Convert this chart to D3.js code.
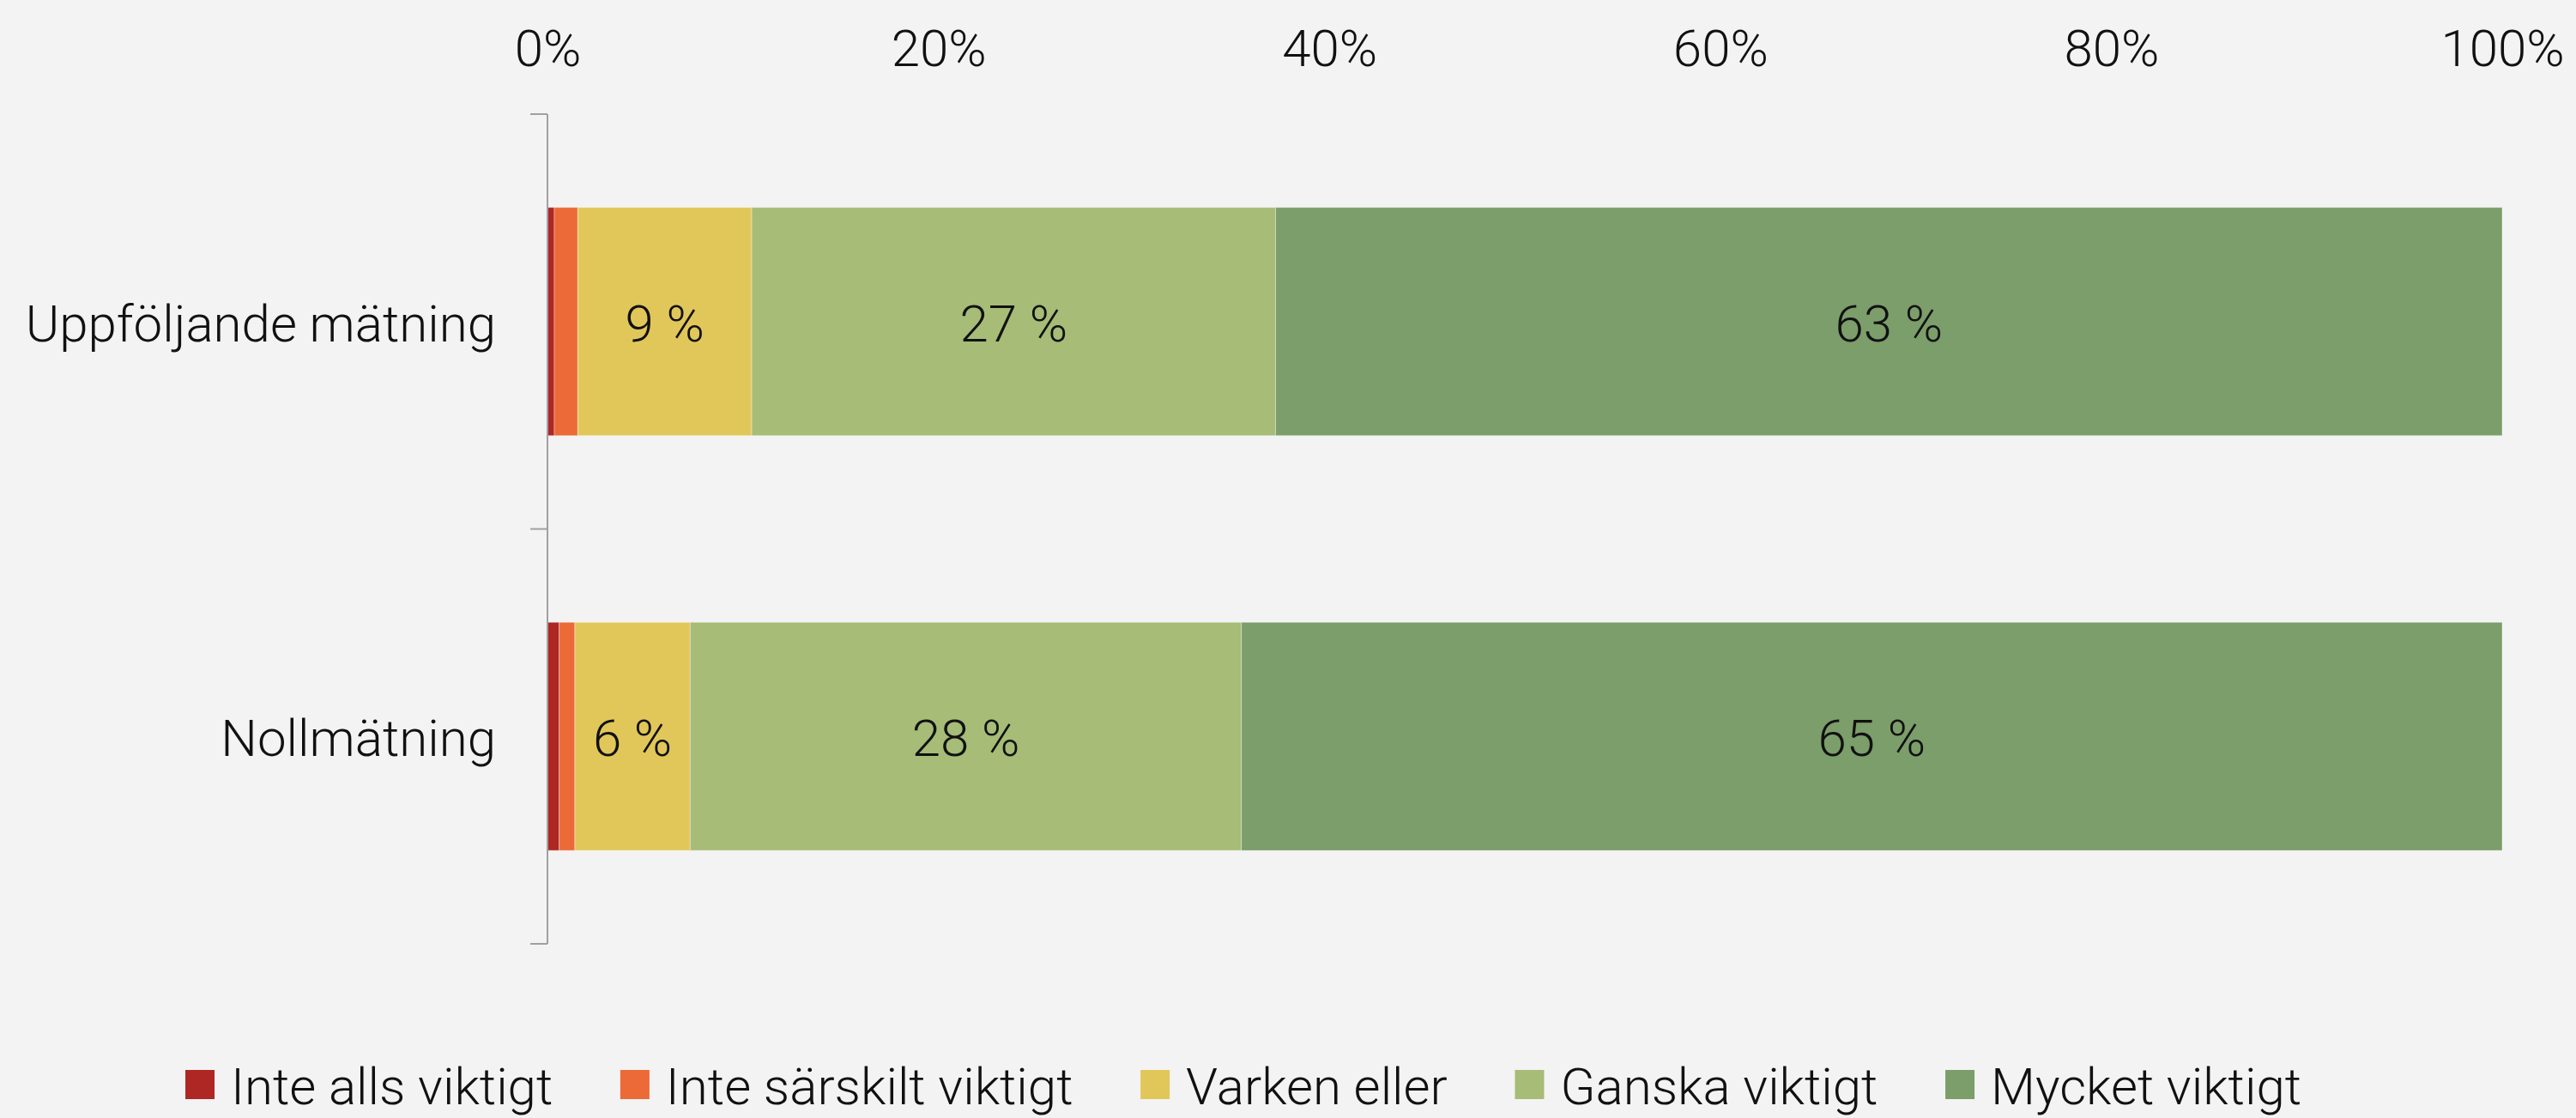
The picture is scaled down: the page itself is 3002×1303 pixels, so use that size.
<!DOCTYPE html>
<html lang="sv">
<head>
  <meta charset="UTF-8" />
  <title>Viktigt – Nollmätning och uppföljande mätning</title>
  <script src="https://d3js.org/d3.v7.min.js"></script>
  <style>
    html, body {
      margin: 0;
      padding: 0;
      background-color: #f3f3f3;
      overflow: hidden;
      width: 3002px;
      height: 1303px;
    }
    svg text {
      font-family: Roboto, "Liberation Sans", sans-serif;
      font-weight: 300;
      fill: #111;
    }
  </style>
</head>
<body>
  <svg id="chart" width="3002" height="1303"></svg>

  <script>
    // data
    const categories = ["Uppföljande mätning", "Nollmätning"];
    const seriesNames = ["Inte alls viktigt", "Inte särskilt viktigt", "Varken eller", "Ganska viktigt", "Mycket viktigt"];
    const inteAlls    = [0.35, 0.6];
    const inteSarskilt = [1.2, 0.8];
    const varkenEller = [8.9, 5.9];
    const ganska      = [26.8, 28.2];
    const mycket      = [62.75, 64.5];
    const xTicks = [0, 20, 40, 60, 80, 100];

    const colors = ["#ae2724", "#ec6a37", "#e1c75a", "#a6bc77", "#7c9e6a"];

    const svg = d3.select("#chart");
    const fontSize = 60;

    const x = d3.scaleLinear().domain([0, 100]).range([638, 2916]);
    const y = d3.scaleBand().domain(categories).range([133, 1100]).paddingInner(0.45).paddingOuter(0.225);

    const rows = categories.map((c, i) => {
      const vals = [inteAlls[i], inteSarskilt[i], varkenEller[i], ganska[i], mycket[i]];
      let acc = 0;
      return vals.map((v, k) => {
        const s = { cat: c, key: seriesNames[k], k: k, v: v, x0: acc, x1: acc + v };
        acc += v;
        return s;
      });
    });

    // top axis
    const xAxis = svg.append("g")
      .attr("transform", "translate(0, 77)")
      .call(d3.axisTop(x).tickValues(xTicks).tickSize(0).tickPadding(0).tickFormat(d => d + "%"));
    xAxis.select(".domain").remove();
    xAxis.selectAll("text")
      .attr("y", 0).attr("dy", 0)
      .style("font-size", fontSize + "px")
      .attr("fill", "#111");

    // bars
    const groups = svg.append("g").selectAll("g")
      .data(rows)
      .join("g");

    groups.selectAll("rect")
      .data(d => d)
      .join("rect")
      .attr("x", d => x(d.x0))
      .attr("width", d => x(d.x1) - x(d.x0))
      .attr("y", d => y(d.cat))
      .attr("height", y.bandwidth())
      .attr("fill", d => colors[d.k])
      .attr("stroke", "rgba(255,255,255,0.35)")
      .attr("stroke-width", 1);

    groups.selectAll("text")
      .data(d => d.filter(s => s.v >= 3))
      .join("text")
      .attr("x", d => x((d.x0 + d.x1) / 2))
      .attr("y", d => y(d.cat) + y.bandwidth() / 2)
      .attr("dy", "0.38em")
      .attr("text-anchor", "middle")
      .style("font-size", fontSize + "px")
      .text(d => Math.round(d.v) + " %");

    // left axis with ticks at band edges
    const axisX = x(0);
    const edges = [133, ...categories.slice(1).map(c => y(c) - y.step() * y.paddingInner() / 2), 1100];
    svg.append("line")
      .attr("x1", axisX).attr("x2", axisX)
      .attr("y1", 133).attr("y2", 1100)
      .attr("stroke", "#a0a0a0").attr("stroke-width", 2);
    svg.append("g").selectAll("line")
      .data(edges)
      .join("line")
      .attr("x1", axisX - 20).attr("x2", axisX)
      .attr("y1", d => d).attr("y2", d => d)
      .attr("stroke", "#a0a0a0").attr("stroke-width", 2);

    svg.append("g").selectAll("text")
      .data(categories)
      .join("text")
      .attr("x", axisX - 60)
      .attr("y", d => y(d) + y.bandwidth() / 2)
      .attr("dy", "0.38em")
      .attr("text-anchor", "end")
      .style("font-size", fontSize + "px")
      .text(d => d);

    // legend, spread between the same outer edges as the original
    const legend = svg.append("g").attr("transform", "translate(0, 1287)");
    const items = legend.selectAll("g")
      .data(seriesNames)
      .join("g");
    items.append("rect")
      .attr("x", 0).attr("y", -40)
      .attr("width", 34).attr("height", 34)
      .attr("fill", (d, i) => colors[i]);
    items.append("text")
      .attr("x", 53).attr("y", 0)
      .style("font-size", fontSize + "px")
      .text(d => d);

    const widths = [];
    items.each(function() {
      widths.push(53 + d3.select(this).select("text").node().getComputedTextLength());
    });
    const left = 216, right = 2682;
    const gap = (right - left - d3.sum(widths)) / (widths.length - 1);
    let lx = left;
    const offsets = widths.map(w => { const o = lx; lx += w + gap; return o; });
    items.attr("transform", (d, i) => `translate(${offsets[i]}, 0)`);
  </script>
</body>
</html>
